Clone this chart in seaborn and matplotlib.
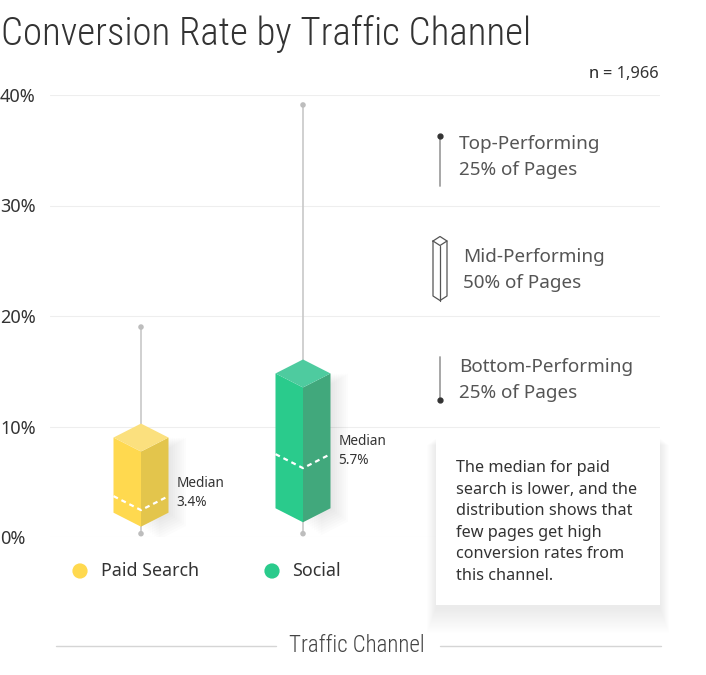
import matplotlib
matplotlib.use("Agg")
import matplotlib.pyplot as plt
from matplotlib import font_manager
from matplotlib.patches import Polygon, Rectangle
import pandas as pd
import seaborn as sns

# data (percent)
channels = ["Paid Search", "Social"]
whisker_low = [0.3, 0.3]
q1 = [2.2, 2.6]
median = [3.7, 7.5]
q3 = [9.0, 14.8]
whisker_high = [19.0, 39.1]
median_labels = ["3.4%", "5.7%"]
y_ticks = [0, 10, 20, 30, 40]
y_tick_labels = ["0%", "10%", "20%", "30%", "40%"]
sample_size = "1,966"

front_colors = ["#FFD94F", "#2ACB8C"]
side_colors = ["#E3C54C", "#41A87C"]
top_colors = ["#FBE07E", "#4ECB9F"]

sns.set_theme(style="white")
installed = {f.name for f in font_manager.fontManager.ttflist}


def pick(*names):
    for n in names:
        if n in installed:
            return n
    return "DejaVu Sans"


BODY = pick("Noto Sans", "Open Sans")
HEAD = pick("Roboto Condensed", "Roboto", "Lato")
plt.rcParams["font.family"] = [BODY, "DejaVu Sans"]

W, H = 706, 675
fig = plt.figure(figsize=(W / 100, H / 100), dpi=100)
fig.patch.set_facecolor("white")

# main axes: 0% at y=537px, 40% at y=95px, x from 50 to 660px
ax = fig.add_axes([50 / W, (H - 537) / H, 610 / W, 442 / H])
ax.set_xlim(-91 / 162, 519 / 162)
ax.set_ylim(0, 40)
for s in ax.spines.values():
    s.set_visible(False)
ax.set_xticks([])
ax.set_yticks(y_ticks)
ax.set_yticklabels(y_tick_labels, ha="left", fontsize=13, color="#333333")
ax.tick_params(axis="y", length=0, pad=36)
ax.yaxis.grid(True, color="#EEEEEE", lw=0.8)
ax.set_axisbelow(True)

hw = 27.5 / 162          # half width of a box in category units
d = 14 / 11.05           # isometric depth in percent units

for i, ch in enumerate(channels):
    x = i
    l, r = x - hw, x + hw
    # soft shadow to the right
    for k in range(1, 9):
        dx = k * 2.2 / 162
        ax.add_patch(Polygon([(x + dx, q3[i] - d - 0.3 * k / 11), (r + dx, q3[i]),
                              (r + dx, q1[i] - 0.15 * k), (x + dx, q1[i] - d - 0.15 * k)],
                             fc="black", ec="none", alpha=0.01, zorder=2))
    ax.vlines(x, whisker_low[i], whisker_high[i], color="#C8C8C8", lw=1.2, zorder=2)
    ax.add_patch(Polygon([(l, q1[i]), (l, q3[i]), (x, q3[i] - d), (x, q1[i] - d)],
                         fc=front_colors[i], ec="none", zorder=3))
    ax.add_patch(Polygon([(x, q3[i] - d), (r, q3[i]), (r, q1[i]), (x, q1[i] - d)],
                         fc=side_colors[i], ec="none", zorder=3))
    ax.add_patch(Polygon([(l, q3[i]), (x, q3[i] + d), (r, q3[i]), (x, q3[i] - d)],
                         fc=top_colors[i], ec="none", zorder=3))
    ax.plot([l, x, r], [median[i], median[i] - d, median[i]], color="white",
            lw=1.6, ls=(0, (2.2, 1.8)), zorder=4)
    ax.text(r + 8 / 162, median[i] + 0.3, "Median\n" + median_labels[i],
            ha="left", va="center", fontsize=9.8, color="#333333",
            linespacing=1.35, zorder=5)

ends = pd.DataFrame({"x": [0, 1, 0, 1], "y": whisker_low + whisker_high})
sns.scatterplot(data=ends, x="x", y="y", ax=ax, color="#BDBDBD", s=16,
                edgecolor="none", zorder=2, clip_on=False, legend=False)

# legend dots below the axis
leg = pd.DataFrame({"x": [(80 - 141) / 162, (272 - 141) / 162],
                    "y": [(537 - 571) / 11.05] * 2, "ch": channels})
sns.scatterplot(data=leg, x="x", y="y", hue="ch", palette=front_colors, ax=ax,
                s=120, edgecolor="none", clip_on=False, legend=False)
for xx, ch in zip([101, 292], channels):
    ax.text((xx - 141) / 162, (537 - 571) / 11.05, ch, ha="left", va="center",
            fontsize=12.8, color="#333333", clip_on=False)
ax.set_xlabel("")
ax.set_ylabel("")

# overlay in pixel coordinates for the decorations
ov = fig.add_axes([0, 0, 1, 1])
ov.set_xlim(0, W)
ov.set_ylim(H, 0)
ov.axis("off")
ov.patch.set_alpha(0)

ov.text(1, 45, "Conversion Rate by Traffic Channel", ha="left", va="baseline",
        fontsize=28, fontfamily=HEAD, fontweight="light", color="#333333")

t_n = ov.text(659, 74, "= " + sample_size, ha="right", va="center",
              fontsize=11.8, color="#333333")
ov.annotate("n", xy=(0, 0.5), xycoords=t_n, xytext=(-3, 0),
            textcoords="offset points", ha="right", va="center",
            fontsize=11.8, fontweight="bold", color="#222222")

# key on the right
key_kw = dict(ha="left", va="center", fontsize=13.6, color="#555555", linespacing=1.58)
ov.plot([440, 440], [136, 186], color="#A0A0A0", lw=1.3)
ov.plot([440], [136], "o", color="#333333", ms=3.5)
ov.text(459, 157, "Top-Performing\n25% of Pages", **key_kw)

ic_l, ic_c, ic_r, dd = 433, 440, 447, 4.5
ic_t, ic_b = 241, 296
ov.plot([ic_l, ic_c, ic_r, ic_r, ic_c, ic_l, ic_l],
        [ic_t, ic_t - dd, ic_t, ic_b, ic_b + dd, ic_b, ic_t], color="#555555", lw=0.9)
ov.plot([ic_l, ic_c, ic_r], [ic_t, ic_t + dd, ic_t], color="#555555", lw=0.9)
ov.plot([ic_c, ic_c], [ic_t + dd, ic_b + dd], color="#555555", lw=0.9)
ov.text(463, 270, "Mid-Performing\n50% of Pages", **key_kw)

ov.plot([440, 440], [357, 400], color="#A0A0A0", lw=1.3)
ov.plot([440], [400], "o", color="#333333", ms=3.5)
ov.text(459, 380, "Bottom-Performing\n25% of Pages", **key_kw)

# note box with soft shadow, mostly below
bx, by, bw, bh = 436, 435, 224, 170
for k in range(1, 21):
    ov.add_patch(Rectangle((bx - k * 0.45, by + 3 + k * 0.35), bw + k * 0.9, bh + k * 0.9,
                           fc="black", ec="none", alpha=0.0045, zorder=1))
ov.add_patch(Rectangle((bx, by), bw, bh, fc="white", ec="none", zorder=2))
ov.text(456, 522, "The median for paid\nsearch is lower, and the\ndistribution shows that\n"
        "few pages get high\nconversion rates from\nthis channel.",
        ha="left", va="center", fontsize=11.7, color="#333333", linespacing=1.45, zorder=3)

# x axis title with rules
ov.plot([56, 276], [646, 646], color="#D5D5D5", lw=1)
ov.plot([440, 661], [646, 646], color="#D5D5D5", lw=1)
ov.text(357, 645, "Traffic Channel", ha="center", va="center", fontsize=16.5,
        fontfamily=HEAD, fontweight="light", color="#444444")

fig.savefig("out.png", dpi=100, facecolor="white")
